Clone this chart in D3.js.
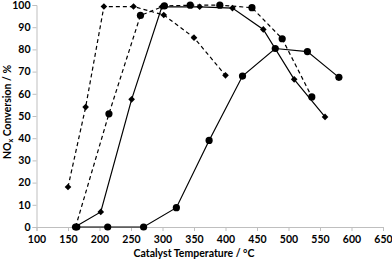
<!DOCTYPE html>
<html>
<head>
<meta charset="utf-8">
<script src="https://cdn.jsdelivr.net/npm/d3@7"></script>
<style>
  body { margin: 0; background: #fff; }
  text { font-family: Lato, "Open Sans", sans-serif; font-weight: 700; fill: #000; }
</style>
</head>
<body>
<div id="chart"></div>
<script>
// series (temperature in °C, conversion in %)
var dashDiamondX = [150, 178, 207, 254, 302, 350, 400];
var dashDiamondY = [18, 54, 99.3, 99.3, 95.5, 85.3, 68.3];

var dashCircleX = [162, 215, 265, 303, 344, 391, 442, 490, 537];
var dashCircleY = [0, 51, 95.3, 99.6, 99.9, 99.9, 98.8, 84.8, 58.6];

var solidDiamondX = [161, 202, 251, 299, 359, 411, 460, 509, 558];
var solidDiamondY = [0, 6.8, 57.5, 99.2, 99.2, 98.6, 89, 66.5, 49.6];

var solidCircleX = [164, 213, 270, 322, 374, 427, 479, 530, 580];
var solidCircleY = [0, 0, 0, 8.7, 39, 68, 80.4, 79, 67.4];

var xTicks = [100, 150, 200, 250, 300, 350, 400, 450, 500, 550, 600, 650];
var yTicks = [0, 10, 20, 30, 40, 50, 60, 70, 80, 90, 100];

var svgWidth = 392;
var svgHeight = 260;
var margin = { top: 5, right: 9, bottom: 33, left: 36.5 };
var width = svgWidth - margin.left - margin.right;
var height = svgHeight - margin.top - margin.bottom;

var svg = d3.select("#chart").append("svg")
  .attr("width", svgWidth)
  .attr("height", svgHeight);

var chartGroup = svg.append("g")
  .attr("transform", `translate(${margin.left}, ${margin.top})`);

var xScale = d3.scaleLinear().domain([100, 650]).range([0, width]);
var yScale = d3.scaleLinear().domain([0, 100]).range([height, 0]);

// axes
var xAxis = chartGroup.append("g")
  .attr("transform", `translate(0, ${height})`)
  .call(d3.axisBottom(xScale).tickValues(xTicks).tickSize(4).tickPadding(5).tickFormat(d3.format("d")));

var yAxis = chartGroup.append("g")
  .call(d3.axisLeft(yScale).tickValues(yTicks).tickSize(4).tickPadding(2).tickFormat(d3.format("d")));

[xAxis, yAxis].forEach(function(ax) {
  ax.select(".domain").attr("stroke", "#bfbfbf").attr("stroke-width", 1);
  ax.selectAll(".tick line").attr("stroke", "#bfbfbf");
  ax.selectAll(".tick text").attr("font-size", "10.5px").attr("font-family", "Lato, sans-serif").attr("font-weight", 700);
});

// axis titles
svg.append("text")
  .attr("x", 194)
  .attr("y", 257)
  .attr("text-anchor", "middle")
  .attr("font-size", "10.5px")
  .text("Catalyst Temperature / °C");

var yTitle = svg.append("text")
  .attr("transform", "translate(10.5, 112) rotate(-90)")
  .attr("text-anchor", "middle")
  .attr("font-size", "10.5px");
yTitle.append("tspan").text("NO");
yTitle.append("tspan").attr("font-size", "7px").attr("dy", 2).text("x");
yTitle.append("tspan").attr("dy", -2).text(" Conversion / %");

// build each series from its arrays
var seriesList = [
  { xs: solidCircleX, ys: solidCircleY, dash: null, marker: "circle" },
  { xs: solidDiamondX, ys: solidDiamondY, dash: null, marker: "diamond" },
  { xs: dashCircleX, ys: dashCircleY, dash: "4,3", marker: "circle" },
  { xs: dashDiamondX, ys: dashDiamondY, dash: "4,3", marker: "diamond" }
];

var line = d3.line()
  .x(d => xScale(d[0]))
  .y(d => yScale(d[1]));

var diamondPath = d3.symbol().type(d3.symbolSquare).size(22)();

seriesList.forEach(function(s) {
  var pts = s.xs.map((x, i) => [x, s.ys[i]]);

  chartGroup.append("path")
    .datum(pts)
    .attr("fill", "none")
    .attr("stroke", "#000")
    .attr("stroke-width", 1.2)
    .attr("stroke-dasharray", s.dash)
    .attr("d", line);

  if (s.marker === "circle") {
    chartGroup.selectAll(null)
      .data(pts)
      .enter()
      .append("circle")
      .attr("cx", d => xScale(d[0]))
      .attr("cy", d => yScale(d[1]))
      .attr("r", 3.6)
      .attr("fill", "#000");
  } else {
    chartGroup.selectAll(null)
      .data(pts)
      .enter()
      .append("path")
      .attr("d", diamondPath)
      .attr("transform", d => `translate(${xScale(d[0])}, ${yScale(d[1])}) rotate(45)`)
      .attr("fill", "#000");
  }
});
</script>
</body>
</html>
